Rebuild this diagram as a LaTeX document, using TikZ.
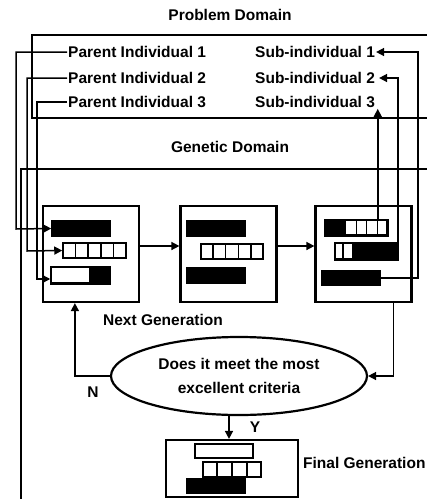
\documentclass[tikz,border=0pt]{standalone}
\usepackage{fontspec}
\setmainfont{Liberation Sans}
\usetikzlibrary{arrows.meta,shapes.geometric,calc}
\begin{document}
\begin{tikzpicture}[x=1pt,y=-1pt,
  lbl/.style={font=\bfseries\fontsize{15.5}{24}\selectfont, inner sep=1pt},
  genbox/.style={draw,line width=2.2pt, minimum width=96pt, minimum height=96pt, inner sep=0pt},
  bar/.style={draw, line width=1.5pt, inner sep=0pt, minimum height=15pt},
  blk/.style={bar, fill=black},
  conn/.style={line width=1.5pt},
  arr/.style={conn, -{Triangle[length=8pt,width=8pt]}},
  dom/.style={line width=2.2pt}]
\useasboundingbox (0,0) rectangle (427,499);

% titles
\node[lbl] (tprob) at (230,15) {Problem Domain};
\node[lbl] (tgen) at (230,147) {Genetic Domain};

% domain frames
\draw[dom] (440,35) -- (32,35) -- (32,118) -- (440,118);
\draw[dom] (21,520) -- (21,169) -- (440,169);

% problem domain texts
\node[lbl,anchor=west] (par1) at (67,52) {Parent Individual 1};
\node[lbl,anchor=west] (par2) at (67,78) {Parent Individual 2};
\node[lbl,anchor=west] (par3) at (67,102) {Parent Individual 3};
\node[lbl,anchor=west] (sub1) at (254,52) {Sub-individual 1};
\node[lbl,anchor=west] (sub2) at (254,78) {Sub-individual 2};
\node[lbl,anchor=west] (sub3) at (254,102) {Sub-individual 3};

% generation boxes
\node[genbox] (box1) at (91,254) {};
\node[genbox] (box2) at (228.5,254) {};
\node[genbox] (box3) at (363.5,254) {};

% box 1 bars
\node[blk, minimum width=58pt] (b11) at (81,228.5) {};
\node[bar, minimum width=63pt] (b12) at (94.5,250.5) {};
\foreach \i in {1,...,4} \draw[line width=1.3pt] ($(b12.north west)!\i/5!(b12.north east)$) -- ($(b12.south west)!\i/5!(b12.south east)$);
\node[bar, minimum width=58pt, minimum height=16pt] (b13) at (80,275) {};
\fill ($(b13.north west)!0.655!(b13.north east)$) rectangle (b13.south east);
\draw[line width=1.5pt] (b13.north west) rectangle (b13.south east);

% box 2 bars
\node[blk, minimum width=58pt] (b21) at (216,228.5) {};
\node[bar, minimum width=62pt] (b22) at (232,251.5) {};
\foreach \i in {1,...,4} \draw[line width=1.3pt] ($(b22.north west)!\i/5!(b22.north east)$) -- ($(b22.south west)!\i/5!(b22.south east)$);
\node[blk, minimum width=58pt] (b23) at (216,275.5) {};

% box 3 bars
\node[bar, minimum width=62pt] (b31) at (356,227.5) {};
\fill (b31.north west) rectangle ($(b31.south west)!0.34!(b31.south east)$);
\foreach \i in {0.34,0.505,0.67,0.835} \draw[line width=1.3pt] ($(b31.north west)!\i!(b31.north east)$) -- ($(b31.south west)!\i!(b31.south east)$);
\draw[line width=1.5pt] (b31.north west) rectangle (b31.south east);
\node[bar, minimum width=62pt, minimum height=16pt] (b32) at (366,251) {};
\fill ($(b32.north west)!0.275!(b32.north east)$) rectangle (b32.south east);
\draw[line width=1.3pt] ($(b32.north west)!0.1375!(b32.north east)$) -- ($(b32.south west)!0.1375!(b32.south east)$);
\draw[line width=1.5pt] (b32.north west) rectangle (b32.south east);
\node[blk, minimum width=58pt, minimum height=14pt] (b33) at (351,278) {};

% final generation
\node[draw, line width=2.2pt, minimum width=132pt, minimum height=57pt, inner sep=0pt] (final) at (232,468.5) {};
\node[bar, minimum width=58pt, minimum height=14pt] (fb1) at (224,451) {};
\node[bar, minimum width=58pt] (fb2) at (232,469.5) {};
\foreach \i in {1,...,3} \draw[line width=1.3pt] ($(fb2.north west)!\i/4!(fb2.north east)$) -- ($(fb2.south west)!\i/4!(fb2.south east)$);
\node[blk, minimum width=58pt, minimum height=14pt] (fb3) at (216,486) {};

% decision
\node[lbl, draw, ellipse, line width=2.2pt, minimum width=256pt, minimum height=78pt, inner sep=0pt, align=center] (ell) at (239,376) {Does it meet the most\\excellent criteria};

% labels
\node[lbl] (lnext) at (163,320) {Next Generation};
\node[lbl,anchor=west] (lfinal) at (302,463) {Final Generation};
\node[lbl] (lN) at (93,392) {N};
\node[lbl] (lY) at (255,427) {Y};

% parent connectors
\draw[arr] (par1.west) -| (16,229) -- (b11.west);
\draw[arr] (par2.west) -| (27,251) -- (b12.west);
\draw[arr] (par3.west) -| (37,279) -- (b13.west |- 0,279);

% sub-individual connectors
\draw[arr] ([xshift=-10pt]b31.north east) -- ([xshift=-10pt]b31.north east |- sub3.south);
\draw[arr] (b32.north east) |- ([xshift=3pt]sub2.east);
\draw[arr] (b33.east) -| (418,52) -- (sub1.east);

% generation flow
\draw[arr] ([yshift=8pt]box1.east) -- ([yshift=8pt]box2.west);
\draw[arr] ([yshift=8pt]box2.east) -- ([yshift=8pt]box3.west);
\draw[arr] (ell.west) -| ([xshift=33pt]box1.south west);
\draw[arr] ([xshift=-19pt]box3.south east) |- (ell.east);
\draw[arr] ([xshift=-3pt]final.north |- ell.south) -- ([xshift=-3pt]final.north);
\end{tikzpicture}
\end{document}
